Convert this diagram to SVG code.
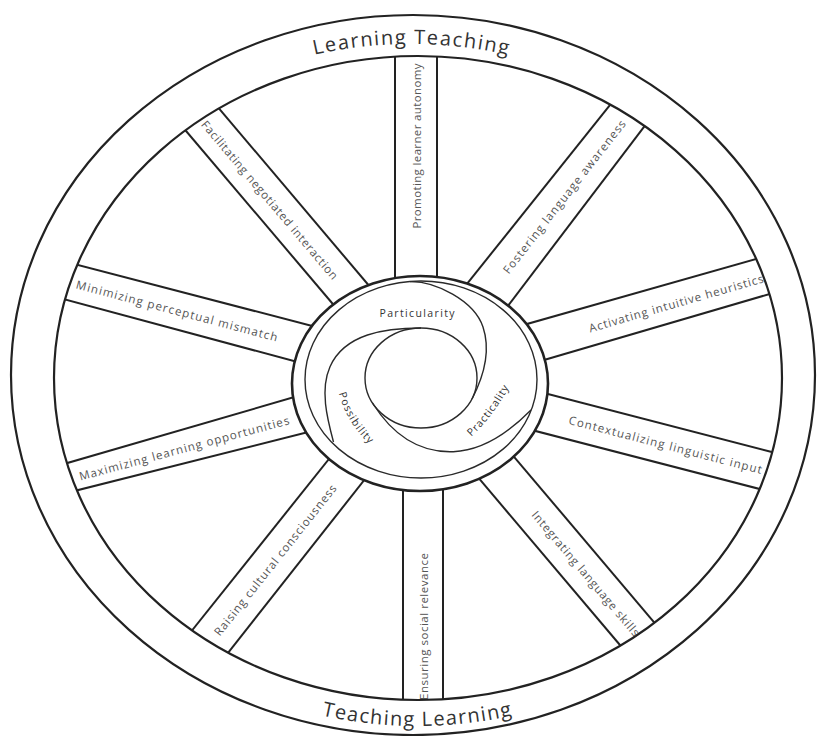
<svg xmlns="http://www.w3.org/2000/svg" width="823" height="736" viewBox="0 0 823 736">
<style>
.rim{fill:none;stroke:#222;stroke-width:2.2}
.hubo{fill:none;stroke:#222;stroke-width:2.6}
.sp{stroke:#222;stroke-width:2;fill:none}
.thin{fill:none;stroke:#2a2a2a;stroke-width:1.4}
.lbl{font-family:"Open Sans","Noto Sans","DejaVu Sans",sans-serif;font-size:11.5px;fill:#555;text-anchor:middle;dominant-baseline:central}
.big{font-family:"Open Sans","Noto Sans","DejaVu Sans",sans-serif;font-size:20px;fill:#333}
.hl{font-family:"Open Sans","Noto Sans","DejaVu Sans",sans-serif;font-size:10.5px;fill:#333}
</style>
<defs>
<clipPath id="ann"><path clip-rule="evenodd" d="M 54,378 a 364,322 0 1,0 728,0 a 364,322 0 1,0 -728,0 Z M 292,383.5 a 128,107.5 0 1,0 256,0 a 128,107.5 0 1,0 -256,0 Z"/></clipPath>
<path id="topArc" d="M 27,377 A 384,333 0 0,1 795,377"/>
<path id="botArc" d="M 27,377 A 390,349 0 0,0 807,377"/>
<path id="possArc" d="M 337,386 Q 345,424 375,449"/>
<path id="pracArc" d="M 470,438 Q 492,418 510,386"/>
</defs>
<rect width="823" height="736" fill="#fff"/>

<g id="wheel-rim">
<ellipse class="rim" cx="413" cy="375" rx="402" ry="360"/>
<ellipse class="rim" cx="418" cy="378" rx="364" ry="322"/>
<text class="big"><textPath href="#topArc" startOffset="50%" text-anchor="middle" textLength="195">Learning Teaching</textPath></text>
<text class="big"><textPath href="#botArc" startOffset="50%" text-anchor="middle" textLength="192">Teaching Learning</textPath></text>
</g>

<g id="connectors" clip-path="url(#ann)">
<g id="spoke-promoting">
<line class="sp" x1="395" y1="30" x2="395" y2="330"/>
<line class="sp" x1="437" y1="30" x2="437" y2="330"/>
</g>
<g id="spoke-fostering">
<line class="sp" x1="443.4" y1="313.4" x2="643.3" y2="63.3"/>
<line class="sp" x1="488.3" y1="331.7" x2="678.4" y2="81.6"/>
</g>
<g id="spoke-activating">
<line class="sp" x1="501.5" y1="331.2" x2="791.8" y2="248.8"/>
<line class="sp" x1="516.7" y1="368" x2="805" y2="283.6"/>
</g>
<g id="spoke-contextualizing">
<line class="sp" x1="518" y1="386.3" x2="810.5" y2="462"/>
<line class="sp" x1="504.6" y1="423" x2="797" y2="498.7"/>
</g>
<g id="spoke-integrating">
<line class="sp" x1="461" y1="457.2" x2="640.7" y2="669.5"/>
<line class="sp" x1="496" y1="435.5" x2="675.7" y2="647.8"/>
</g>
<g id="spoke-ensuring">
<line class="sp" x1="403" y1="440" x2="403" y2="720"/>
<line class="sp" x1="443" y1="440" x2="443" y2="720"/>
</g>
<g id="spoke-raising">
<line class="sp" x1="346.5" y1="437" x2="175.2" y2="651.5"/>
<line class="sp" x1="381.2" y1="458.5" x2="212.2" y2="673"/>
</g>
<g id="spoke-maximizing">
<line class="sp" x1="322.7" y1="388.8" x2="39" y2="471.2"/>
<line class="sp" x1="337" y1="424.8" x2="44.6" y2="498.5"/>
</g>
<g id="spoke-minimizing">
<line class="sp" x1="335.2" y1="332" x2="44.8" y2="256.3"/>
<line class="sp" x1="323.5" y1="369" x2="33.2" y2="291"/>
</g>
<g id="spoke-facilitating">
<line class="sp" x1="347.7" y1="321.5" x2="165.7" y2="107"/>
<line class="sp" x1="380.7" y1="299.5" x2="201" y2="87.2"/>
</g>
</g>

<g id="labels">
<text class="lbl" transform="translate(416,146) rotate(-90)" textLength="165">Promoting learner autonomy</text>
<text class="lbl" transform="translate(564,196.6) rotate(-52)" textLength="191">Fostering language awareness</text>
<text class="lbl" transform="translate(676,303) rotate(-16.1)" textLength="181">Activating intuitive heuristics</text>
<text class="lbl" transform="translate(665.5,444.5) rotate(14.55)" textLength="199">Contextualizing linguistic input</text>
<text class="lbl" transform="translate(586,573.3) rotate(49.75)" textLength="160">Integrating language skills</text>
<text class="lbl" transform="translate(423,626.5) rotate(-90)" textLength="147">Ensuring social relevance</text>
<text class="lbl" transform="translate(275,560) rotate(-51.6)" textLength="189">Raising cultural consciousness</text>
<text class="lbl" transform="translate(184,448) rotate(-15.1)" textLength="217">Maximizing learning opportunities</text>
<text class="lbl" transform="translate(177,310.5) rotate(14.85)" textLength="208">Minimizing perceptual mismatch</text>
<text class="lbl" transform="translate(270,199.8) rotate(49.7)" textLength="204">Facilitating negotiated interaction</text>
</g>

<g id="hub">
<ellipse fill="#fff" class="hubo" cx="420" cy="383.5" rx="128" ry="107.5"/>
<ellipse class="thin" cx="421" cy="379.5" rx="116" ry="98.5"/>
<ellipse class="thin" cx="421" cy="378" rx="56" ry="50"/>
<path class="thin" d="M 421,328 C 385,328 344.6,333.8 330,366.7 C 319.9,389.6 327,418 333.5,442"/>
<path class="thin" d="M 472,399 C 484,375.9 491.2,351.7 483,327 C 474.2,300.4 435,281 410,281.6"/>
<path class="thin" d="M 372.5,403 C 392,434 418,453 453.3,451.7 C 483.3,450.6 510,431.3 531,410"/>
<text class="hl" x="417" y="317" text-anchor="middle" textLength="75">Particularity</text>
<text class="hl"><textPath href="#possArc" startOffset="50%" text-anchor="middle" textLength="60">Possibility</textPath></text>
<text class="hl"><textPath href="#pracArc" startOffset="50%" text-anchor="middle" textLength="62">Practicality</textPath></text>
</g>
</svg>
